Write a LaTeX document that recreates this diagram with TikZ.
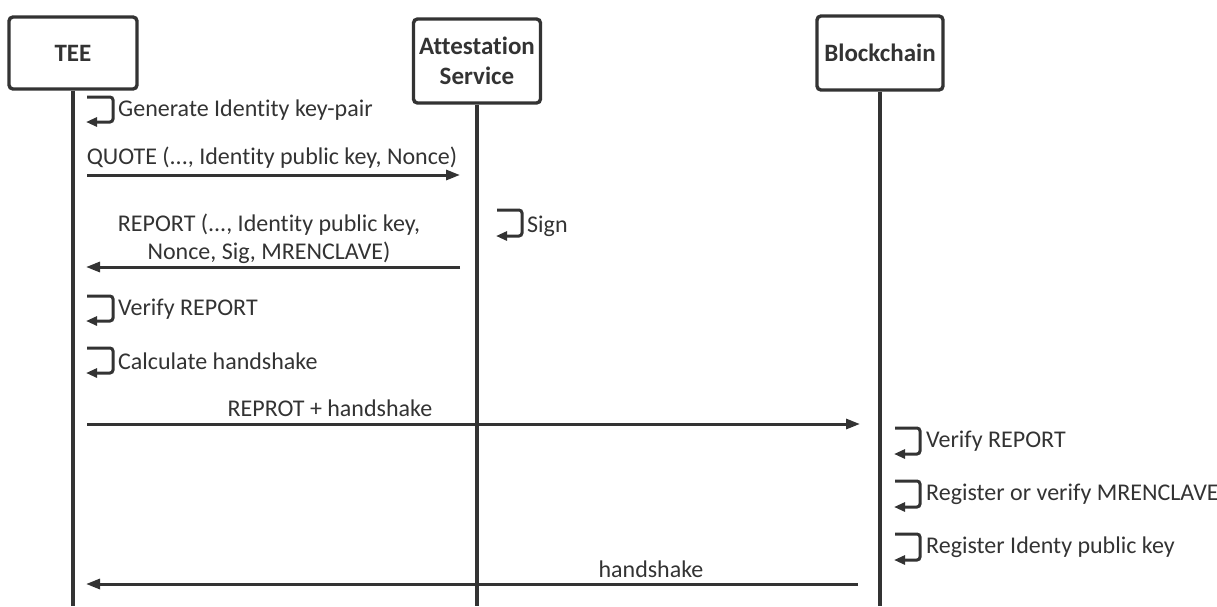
\documentclass[tikz,border=0pt]{standalone}
\usepackage{fontspec}
\setmainfont[Ligatures={NoCommon}]{Carlito}
\usetikzlibrary{arrows.meta}
\definecolor{ink}{HTML}{333333}
\tikzset{
  actor/.style={draw=ink, line width=3.4pt, rounded corners=4pt, fill=white, align=center, font=\fontsize{25}{30}\selectfont\bfseries, text=ink, inner sep=0pt},
  life/.style={draw=ink, line width=3.2pt},
  msg/.style={draw=ink, line width=3pt, -{Triangle[length=14pt,width=10pt]}},
  loop/.style={draw=ink, line width=3pt, rounded corners=3pt, -{Triangle[length=11pt,width=9pt]}},
  lbl/.style={font=\fontsize{24}{28}\selectfont, text=ink, inner sep=0pt, align=center},
  llbl/.style={lbl, anchor=west},
}
\begin{document}
\begin{tikzpicture}[x=1pt,y=-1pt]
\useasboundingbox (0,0) rectangle (1217,606);
% actors
\node[actor, minimum width=128pt, minimum height=72pt] (tee) at (73,53) {TEE};
\node[actor, minimum width=127pt, minimum height=84pt] (att) at (477,61) {Attestation\\Service};
\node[actor, minimum width=126pt, minimum height=74pt] (bc) at (880,53) {Blockchain};
\coordinate (teeE) at (73,606);
\coordinate (attE) at (477,606);
\coordinate (bcE) at (880,606);
\draw[life] (tee.south) -- (teeE);
\draw[life] (att.south) -- (attE);
\draw[life] (bc.south) -- (bcE);
% self loops: TEE
\foreach \n/\y/\t in {g/97/Generate Identity key-pair, v/296/Verify REPORT, c/348/Calculate handshake}{
  \coordinate (\n a) at (87,\y);
  \coordinate (\n b) at (113,\y);
  \coordinate (\n c) at (113,\y+25);
  \coordinate (\n d) at (86,\y+25);
  \draw[loop] (\n a) -- (\n b) -- (\n c) -- (\n d);
  \node[llbl] (\n t) at (118,\y+13) {\t};
}
% Sign
\coordinate (sa) at (497,210);
\coordinate (sb) at (522,210);
\coordinate (sc) at (522,236);
\coordinate (sd) at (496,236);
\draw[loop] (sa) -- (sb) -- (sc) -- (sd);
\node[llbl] (st) at (527,226) {Sign};
% Blockchain loops
\foreach \n/\y/\t in {bv/428/Verify REPORT, br/481/Register or verify MRENCLAVE, bi/534/Register Identy public key}{
  \coordinate (\n a) at (895,\y);
  \coordinate (\n b) at (920,\y);
  \coordinate (\n c) at (920,\y+26);
  \coordinate (\n d) at (894,\y+26);
  \draw[loop] (\n a) -- (\n b) -- (\n c) -- (\n d);
  \node[llbl] (\n t) at (926,\y+13) {\t};
}
% messages
\coordinate (q1) at (87,175);
\coordinate (q2) at (460,175);
\draw[msg] (q1) -- (q2);
\node[lbl] (ql) at (272,158) {QUOTE (..., Identity public key, Nonce)};
\coordinate (r1) at (460,267);
\coordinate (r2) at (86,267);
\draw[msg] (r1) -- (r2);
\node[lbl] (rl) at (269,239) {REPORT (..., Identity public key,\\Nonce, Sig, MRENCLAVE)};
\coordinate (h1) at (87,424);
\coordinate (h2) at (860,424);
\draw[msg] (h1) -- (h2);
\node[lbl] (hl) at (330,408) {REPROT + handshake};
\coordinate (k1) at (858,584);
\coordinate (k2) at (86,584);
\draw[msg] (k1) -- (k2);
\node[lbl] (kl) at (651,569) {handshake};
\end{tikzpicture}
\end{document}
